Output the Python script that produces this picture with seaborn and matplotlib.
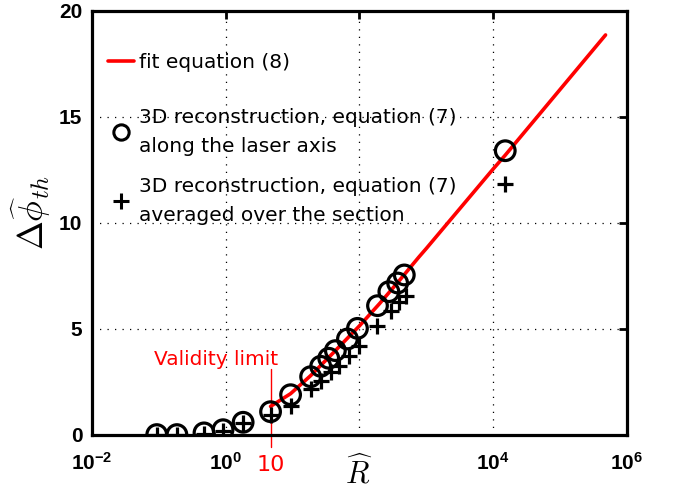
import numpy as np
import pandas as pd
import seaborn as sns
import matplotlib
matplotlib.use("Agg")
import matplotlib.pyplot as plt
from matplotlib.lines import Line2D

# ---- data ----
fit_R = [4.68, 9.33, 18.6, 39.8, 100, 200, 398, 776, 1000, 2754, 10000,
         15136, 42658, 478630]
fit_phi = [1.35, 1.95, 2.8, 3.85, 5.15, 6.2, 7.3, 8.4, 8.8, 10.45, 12.55,
           13.2, 14.9, 18.87]

axis_R = [0.093, 0.186, 0.473, 0.912, 1.82, 4.68, 9.33, 18.6, 26.3, 34.7, 43.6,
          66.1, 93.3, 186, 275, 372, 468, 15136]
axis_phi = [0.02, 0.02, 0.1, 0.25, 0.6, 1.1, 1.9, 2.75, 3.24, 3.62, 3.98,
            4.53, 5.03, 6.10, 6.76, 7.17, 7.55, 13.41]

avg_R = [0.093, 0.186, 0.473, 0.912, 1.82, 4.68, 9.33, 18.6, 26.3, 37.2, 49.0,
         69.2, 97.7, 186, 295, 389, 490, 15136]
avg_phi = [0.0, 0.0, 0.05, 0.2, 0.55, 0.95, 1.38, 2.17, 2.56, 2.96, 3.24,
           3.74, 4.21, 5.16, 5.86, 6.26, 6.57, 11.84]

xtick_vals = [1e-2, 1e0, 1e2, 1e4, 1e6]
xtick_labels = [r"$10^{-2}$", r"$10^{0}$", "", r"$10^{4}$", r"$10^{6}$"]
ytick_vals = [0, 5, 10, 15, 20]
validity_R = 4.68

labels = ["fit equation (8)",
          "3D reconstruction, equation (7)\nalong the laser axis",
          "3D reconstruction, equation (7)\naveraged over the section"]

# ---- style ----
sns.set_theme(style="white")
plt.rcParams["font.family"] = ["DejaVu Sans"]
plt.rcParams["text.color"] = "black"
plt.rcParams["axes.labelcolor"] = "black"
plt.rcParams["mathtext.fontset"] = "custom"
plt.rcParams["mathtext.rm"] = "Liberation Sans:bold"
plt.rcParams["mathtext.bf"] = "Liberation Sans:bold"
plt.rcParams["mathtext.it"] = "Liberation Sans:bold"
plt.rcParams["mathtext.default"] = "it"

fig = plt.figure(figsize=(6.78, 5.0), dpi=100)
ax = fig.add_axes([0.1357, 0.13, 0.789, 0.848])

fit_df = pd.DataFrame({"R": fit_R, "phi": fit_phi})
axis_df = pd.DataFrame({"R": axis_R, "phi": axis_phi})
avg_df = pd.DataFrame({"R": avg_R, "phi": avg_phi})

sns.lineplot(data=fit_df, x="R", y="phi", sort=False, color="red", lw=2.6,
             ax=ax, zorder=3)
sns.scatterplot(data=axis_df, x="R", y="phi", marker="o", s=200,
                facecolors="none", edgecolor="black", linewidth=2.3,
                ax=ax, zorder=4)
sns.scatterplot(data=avg_df, x="R", y="phi", marker="+", s=140,
                color="black", linewidth=2.3, ax=ax, zorder=4)

ax.set_xscale("log")
ax.set_xlim(1e-2, 1e6)
ax.set_ylim(0, 20)

ax.set_xticks(xtick_vals)
ax.set_xticklabels(xtick_labels)
ax.minorticks_off()
ax.set_yticks(ytick_vals)
ax.set_yticklabels([str(v) for v in ytick_vals], fontweight="bold",
                   family="Liberation Sans")
for t in ax.get_xticklabels() + ax.get_yticklabels():
    t.set_fontsize(15)

ax.tick_params(axis="both", which="major", direction="in", length=6, width=2,
               top=True, right=True, colors="black", labelcolor="black")
ax.tick_params(axis="x", pad=12)
ax.tick_params(axis="y", pad=7)

for s in ax.spines.values():
    s.set_linewidth(2.3)
    s.set_color("black")

ax.grid(True, which="major", color="black", linestyle=(0, (1, 5)), lw=0.9)

ax.set_xlabel(r"$\widehat{R}$", fontsize=22, math_fontfamily="cm")
ax.xaxis.set_label_coords(0.5, -0.048)
ax.set_ylabel(r"$\Delta\widehat{\phi}_{th}$", fontsize=25,
              math_fontfamily="cm")
ax.yaxis.set_label_coords(-0.072, 0.524)

# validity limit
ax.plot([validity_R, validity_R], [3.1, -0.55], color="red", lw=1.0,
        clip_on=False, zorder=2)
ax.text(6.0, 3.55, "Validity limit", color="red", fontsize=14.5,
        ha="right", va="center")
ax.text(validity_R, -1.4, "10", color="red", fontsize=16, ha="center",
        va="center", clip_on=False)

h_fit = Line2D([], [], color="red", lw=2.6)
h_axis = Line2D([], [], marker="o", ls="", markerfacecolor="none",
                markeredgecolor="black", markersize=11, markeredgewidth=2.2)
h_avg = Line2D([], [], marker="+", ls="", color="black", markersize=11,
               markeredgewidth=2.2)

leg1 = ax.legend([h_fit], labels[:1], loc="upper left", frameon=False,
                 fontsize=14.5, handlelength=1.3, handletextpad=0.25,
                 borderaxespad=0.0, bbox_to_anchor=(0.015, 0.92),
                 labelcolor="black")
ax.add_artist(leg1)
leg2 = ax.legend([h_axis, h_avg], labels[1:], loc="upper left", frameon=False,
                 fontsize=14.5, handlelength=1.3, handletextpad=0.25,
                 labelspacing=1.05, borderaxespad=0.0,
                 bbox_to_anchor=(0.015, 0.79), labelcolor="black")
for t in leg2.get_texts():
    t.set_linespacing(1.65)

fig.savefig("out.png", dpi=100)
